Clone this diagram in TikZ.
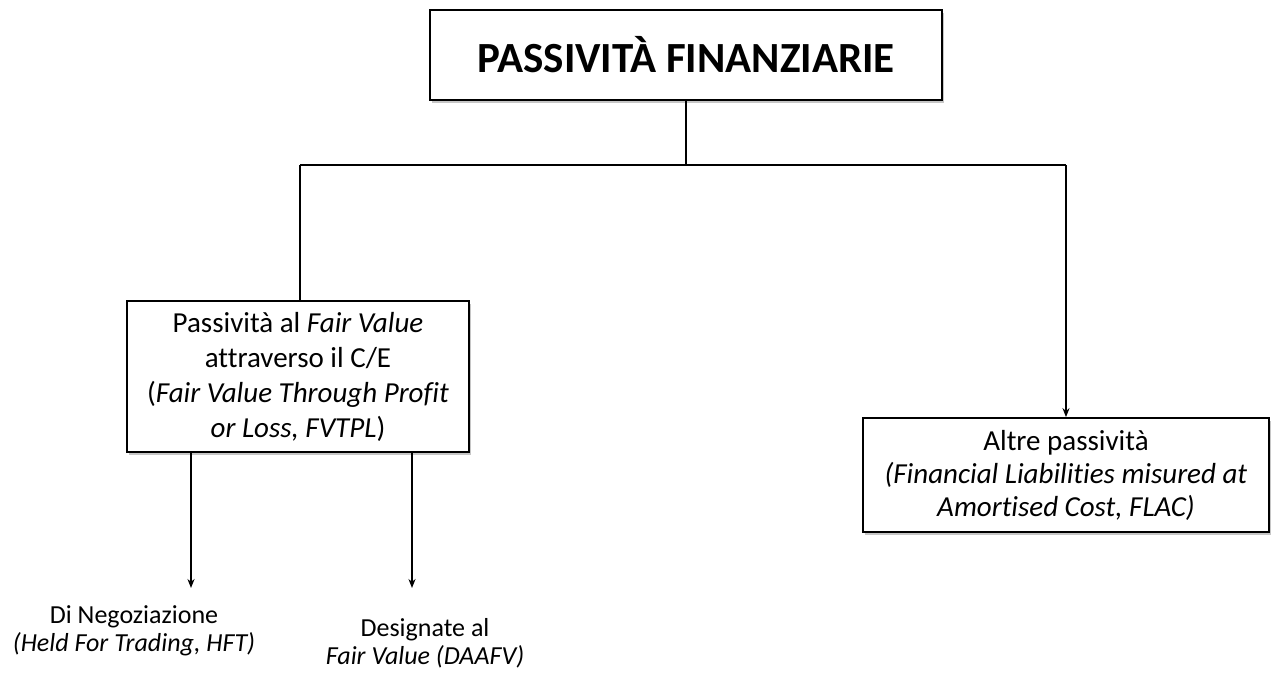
\documentclass[tikz,border=0pt]{standalone}
\usepackage{fontspec}
\setmainfont[Ligatures=NoCommon]{Carlito}
\usetikzlibrary{arrows.meta,shadows}
\begin{document}
\begin{tikzpicture}[x=1pt,y=-1pt,
  boxshadow/.style={drop shadow={shadow xshift=2pt,shadow yshift=-2.5pt,fill=black!50,opacity=0.45}},
  titlebox/.style={draw=black,line width=2.6pt,fill=white,boxshadow,inner sep=0pt,
    font=\fontsize{43}{50}\selectfont\bfseries},
  catbox/.style={draw=black,line width=1.8pt,fill=white,boxshadow,inner sep=0pt,align=center,
    font=\fontsize{29}{35}\selectfont},
  leaf/.style={align=center,inner sep=0pt,font=\fontsize{26}{28}\selectfont},
  link/.style={line width=1.6pt},
  arrowlink/.style={link,-{Stealth[length=9pt,width=7pt]}}]
\useasboundingbox (0,0) rectangle (1275,673);
\node[titlebox,minimum width=512pt,minimum height=90pt] (top) at (686,55) {PASSIVITÀ FINANZIARIE};
\node[catbox,minimum width=342pt,minimum height=151pt] (fv) at (298,376.5)
  {Passività al \textit{Fair Value}\\attraverso il C/E\\(\textit{Fair Value Through Profit}\\\textit{or Loss, FVTPL})};
\node[catbox,minimum width=406pt,minimum height=114pt,font=\fontsize{29}{33}\selectfont] (flac) at (1066,475)
  {Altre passività\\\textit{(Financial Liabilities misured at}\\\textit{Amortised Cost, FLAC)}};
\node[leaf] (hft) at (134,631) {Di Negoziazione\\\textit{(Held For Trading, HFT)}};
\node[leaf] (daafv) at (425,643) {Designate al\\\textit{Fair Value (DAAFV)}};
\coordinate (j) at (686,165);
\coordinate (jl) at (300,165);
\coordinate (jr) at (1066,165);
\coordinate (a1) at (191,588);
\coordinate (a2) at (412,588);
\draw[link] (top.south) -- (j);
\draw[link] (jl) -- (jr);
\draw[link] (jl) -- (fv.north -| jl);
\draw[arrowlink] (jr) -- (flac.north);
\draw[arrowlink] (fv.south -| a1) -- (a1);
\draw[arrowlink] (fv.south -| a2) -- (a2);
\end{tikzpicture}
\end{document}
